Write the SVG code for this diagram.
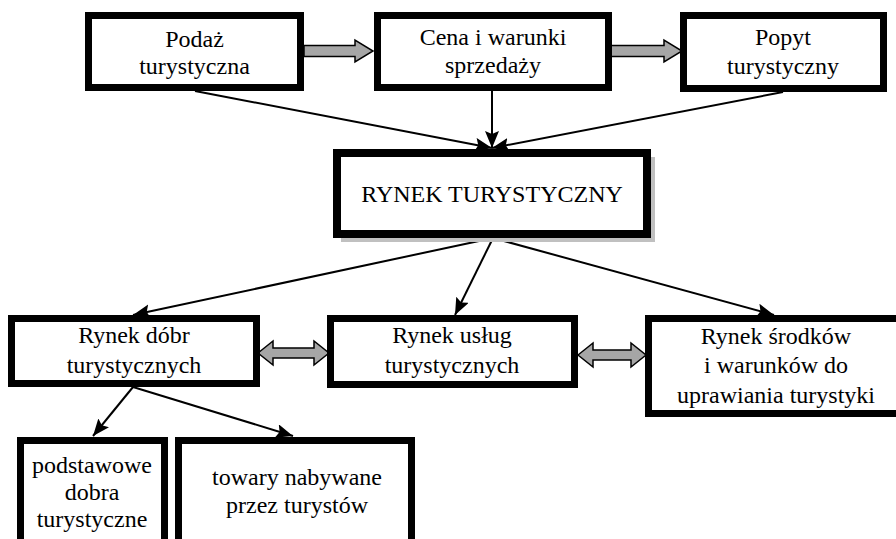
<svg xmlns="http://www.w3.org/2000/svg" width="896" height="539" viewBox="0 0 896 539">
<style>
.box{fill:#fff;stroke:#000;stroke-width:7}
.ga{fill:#a6a6a6;stroke:#000;stroke-width:1.5;stroke-linejoin:miter}
.c{stroke:#000;stroke-width:2;fill:none;marker-end:url(#ah)}
</style>
<defs>
<marker id="ah" markerUnits="userSpaceOnUse" markerWidth="20" markerHeight="16" refX="17" refY="7" orient="auto">
<path d="M0,0 L17,7 L0,14 L3,7 z" fill="#000"/>
</marker>
</defs>
<rect width="896" height="539" fill="#fff"/>
<g id="connectors">
<line class="c" x1="195" y1="91" x2="492" y2="148"/>
<line class="c" x1="492" y1="91" x2="492" y2="148"/>
<line class="c" x1="783" y1="92" x2="492" y2="148"/>
<line class="c" x1="493" y1="238" x2="133" y2="315"/>
<line class="c" x1="493" y1="238" x2="455" y2="315"/>
<line class="c" x1="493" y1="238" x2="774" y2="315"/>
<line class="c" x1="133" y1="387" x2="93" y2="436"/>
<line class="c" x1="133" y1="387" x2="293" y2="436"/>
<polygon class="ga" points="304,45.5 355,45.5 355,40 373,51 355,62 355,56.5 304,56.5"/>
<polygon class="ga" points="611,45.5 664,45.5 664,40 682,51 664,62 664,56.5 611,56.5"/>
<polygon class="ga" points="258,353 273,341 273,348 314,348 314,341 329,353 314,365 314,358 273,358 273,365"/>
<polygon class="ga" points="578,355 593,343 593,350 631,350 631,343 646,355 631,367 631,360 593,360 593,367"/>
</g>
<g font-family="'Liberation Serif', 'Times New Roman', 'DejaVu Serif', serif" font-size="24" text-anchor="middle" fill="#000">
<g id="podaz">
<rect class="box" x="88.5" y="15.5" width="212" height="72"/>
<text x="194.5" y="47">Podaż</text>
<text x="194.5" y="74">turystyczna</text>
</g>
<g id="cena">
<rect class="box" x="377.5" y="15.5" width="231" height="72"/>
<text x="493" y="45">Cena i warunki</text>
<text x="493" y="73">sprzedaży</text>
</g>
<g id="popyt">
<rect class="box" x="683.5" y="15.5" width="200" height="73"/>
<text x="783" y="45">Popyt</text>
<text x="783" y="74">turystyczny</text>
</g>
<g id="rynek">
<rect x="341" y="157" width="314" height="85" fill="#c0c0c0"/>
<rect class="box" x="337" y="153" width="310" height="81" style="stroke-width:8"/>
<text x="492" y="202">RYNEK TURYSTYCZNY</text>
</g>
<g id="dobr">
<rect class="box" x="11.5" y="318.5" width="245" height="65"/>
<text x="134" y="343">Rynek dóbr</text>
<text x="134" y="373">turystycznych</text>
</g>
<g id="uslug">
<rect class="box" x="330.5" y="318.5" width="244" height="66"/>
<text x="452" y="343">Rynek usług</text>
<text x="452" y="373">turystycznych</text>
</g>
<g id="srodkow">
<rect class="box" x="648.5" y="318.5" width="260" height="95"/>
<text x="776" y="344">Rynek środków</text>
<text x="776" y="373">i warunków do</text>
<text x="776" y="403">uprawiania turystyki</text>
</g>
<g id="podstawowe">
<rect class="box" x="20.5" y="440.5" width="144" height="110"/>
<text x="92" y="473">podstawowe</text>
<text x="92" y="500">dobra</text>
<text x="92" y="527">turystyczne</text>
</g>
<g id="towary">
<rect class="box" x="178.5" y="440.5" width="233" height="110"/>
<text x="297" y="485">towary nabywane</text>
<text x="297" y="513">przez turystów</text>
</g>
</g>
</svg>
